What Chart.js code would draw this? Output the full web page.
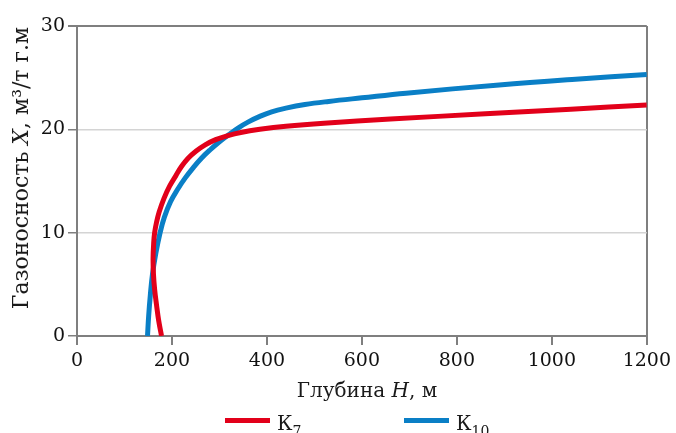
<!DOCTYPE html>
<html lang="ru">
<head>
<meta charset="utf-8">
<title>Газоносность</title>
<script src="https://cdn.jsdelivr.net/npm/chart.js@4.4.1/dist/chart.umd.min.js"></script>
<style>
  html, body { margin: 0; padding: 0; background: #fff; overflow: hidden; }
  #gas { display: block; }
</style>
</head>
<body>
<canvas id="gas" width="676" height="433"></canvas>
<script>
// K7 — the curve turns back near the bottom, so points go by X (bottom to top)
var k7Depth = [178, 172, 167.5, 163.5, 161, 160.2, 161.5, 163.5, 167.5, 173, 183, 195, 208, 220, 234, 251, 270, 292, 318, 345, 385, 440, 520, 660, 860, 1040, 1200];
var k7Gas = [0, 1.5, 3, 4.5, 6, 7.5, 9, 10, 11, 12, 13.3, 14.5, 15.5, 16.4, 17.2, 17.9, 18.5, 19.0, 19.4, 19.7, 20.0, 20.3, 20.6, 21.0, 21.5, 21.95, 22.35];

var k10Depth = [148.5, 151, 154.5, 159, 166, 175, 184, 197, 212, 228, 245, 262, 280, 300, 320, 340, 360, 385, 410, 440, 480, 530, 600, 693, 889, 1050, 1200];
var k10Gas = [0, 2, 4, 6, 8, 10, 11.5, 13, 14.2, 15.3, 16.3, 17.2, 18.0, 18.8, 19.5, 20.15, 20.7, 21.25, 21.7, 22.05, 22.4, 22.7, 23.05, 23.5, 24.3, 24.85, 25.3];

var xTicks = [0, 200, 400, 600, 800, 1000, 1200];
var yTicks = [0, 10, 20, 30];

(function () {
  "use strict";

  var SERIF = "'DejaVu Serif', 'Liberation Serif', serif";
  var AXIS = "#7f7f7f";
  var GRID = "#d4d4d4";
  var RED = "#e2001a";
  var BLUE = "#0a7fc6";

  function toPoints(xs, ys) {
    var out = [];
    for (var i = 0; i < xs.length; i++) out.push({ x: xs[i], y: ys[i] });
    return out;
  }

  // draws a run of [text, italic] parts, centred on cx
  function drawParts(ctx, parts, cx, cy, size) {
    var widths = [];
    var total = 0;
    parts.forEach(function (p) {
      ctx.font = (p[1] ? "italic " : "") + size + "px " + SERIF;
      var w = ctx.measureText(p[0]).width;
      widths.push(w);
      total += w;
    });
    var x = cx - total / 2;
    parts.forEach(function (p, i) {
      ctx.font = (p[1] ? "italic " : "") + size + "px " + SERIF;
      ctx.fillText(p[0], x, cy);
      x += widths[i];
    });
  }

  var decor = {
    id: "decor",
    afterDraw: function (chart) {
      var ctx = chart.ctx;
      ctx.save();
      ctx.fillStyle = "#1a1a1a";
      ctx.textBaseline = "alphabetic";
      ctx.textAlign = "left";

      // x title
      drawParts(ctx, [["Глубина ", false], ["H", true], [", м", false]], 367, 397, 20);

      // y title, rotated
      ctx.save();
      ctx.translate(28, 168);
      ctx.rotate(-Math.PI / 2);
      drawParts(ctx, [["Газоносность ", false], ["X", true], [", м³/т г.м", false]], 0, 0, 22);
      ctx.restore();

      // legend
      var items = [
        { color: RED, sub: "7", x: 225 },
        { color: BLUE, sub: "10", x: 404 }
      ];
      items.forEach(function (it) {
        ctx.fillStyle = it.color;
        ctx.fillRect(it.x, 418, 45, 5);
        ctx.fillStyle = "#1a1a1a";
        ctx.font = "20px " + SERIF;
        ctx.fillText("К", it.x + 52, 430);
        var kw = ctx.measureText("К").width;
        ctx.font = "14px " + SERIF;
        ctx.fillText(it.sub, it.x + 52 + kw, 436);
      });
      ctx.restore();
    }
  };

  function plain(v) {
    return String(v);
  }

  function init() {
    var ctx = document.getElementById("gas").getContext("2d");
    new Chart(ctx, {
      type: "scatter",
      data: {
        datasets: [
          {
            label: "К7",
            data: toPoints(k7Depth, k7Gas),
            showLine: true,
            borderColor: RED,
            backgroundColor: RED,
            borderWidth: 5,
            pointRadius: 0,
            tension: 0.4
          },
          {
            label: "К10",
            data: toPoints(k10Depth, k10Gas),
            showLine: true,
            borderColor: BLUE,
            backgroundColor: BLUE,
            borderWidth: 5,
            pointRadius: 0,
            tension: 0.4
          }
        ]
      },
      options: {
        responsive: false,
        animation: false,
        layout: { padding: { top: 26, right: 28, left: 0, bottom: 0 } },
        plugins: {
          legend: { display: false },
          tooltip: { enabled: false }
        },
        scales: {
          x: {
            type: "linear",
            min: 0,
            max: 1200,
            afterBuildTicks: function (s) {
              s.ticks = xTicks.map(function (v) { return { value: v }; });
            },
            afterFit: function (s) { s.height = 97; },
            border: { color: AXIS, width: 2 },
            grid: {
              color: function (c) { return c.tick && c.tick.value === 1200 ? AXIS : "rgba(0,0,0,0)"; },
              lineWidth: 2,
              tickColor: AXIS,
              tickLength: 9,
              drawTicks: true
            },
            ticks: {
              color: "#111",
              padding: 5,
              maxRotation: 0,
              callback: plain,
              font: { family: SERIF, size: 19 }
            }
          },
          y: {
            type: "linear",
            min: 0,
            max: 30,
            afterBuildTicks: function (s) {
              s.ticks = yTicks.map(function (v) { return { value: v }; });
            },
            afterFit: function (s) { s.width = 77; },
            border: { color: AXIS, width: 2 },
            grid: {
              color: function (c) { return c.tick && c.tick.value === 30 ? AXIS : GRID; },
              lineWidth: function (c) { return c.tick && c.tick.value === 30 ? 2 : 1.5; },
              tickColor: AXIS,
              tickLength: 9
            },
            ticks: {
              color: "#111",
              padding: 3,
              callback: plain,
              font: { family: SERIF, size: 19 }
            }
          }
        }
      },
      plugins: [decor]
    });
  }

  document.addEventListener("DOMContentLoaded", init);
})();
</script>
</body>
</html>
